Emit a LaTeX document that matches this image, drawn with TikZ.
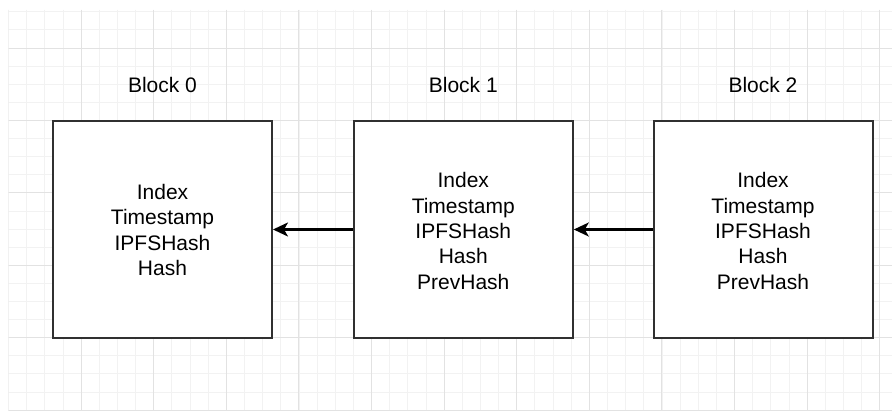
\documentclass[tikz,border=0pt]{standalone}
\usepackage{fontspec}
\setmainfont{Liberation Sans}
\usetikzlibrary{arrows.meta}
\definecolor{minorgrid}{HTML}{F2F2F2}
\definecolor{majorgrid}{HTML}{E2E2E2}
\definecolor{boxline}{HTML}{303030}
\tikzset{
  blockbox/.style={draw=boxline, line width=2pt, fill=white, minimum width=219pt, minimum height=217pt, inner sep=0pt},
  blocktext/.style={align=center, font=\fontsize{21pt}{25.3pt}\selectfont, inner sep=0pt},
  blocklabel/.style={font=\fontsize{21pt}{25pt}\selectfont, inner sep=0pt},
  linkarrow/.style={draw=black, line width=2.2pt, -{Stealth[length=15pt,width=14pt,inset=4pt]}}
}
\begin{document}
\begin{tikzpicture}[x=1pt,y=-1pt]
\useasboundingbox (0,0) rectangle (892,412);
\fill[white] (0,0) rectangle (892,412);
% grid
\begin{scope}
\clip (8.5,10) rectangle (892,410.5);
\foreach \i in {0,...,49} {
  \pgfmathsetmacro{\xx}{8.5+18.15*\i}
  \draw[minorgrid, line width=0.8pt] (\xx,10) -- (\xx,411);
}
\foreach \i in {-2,...,20} {
  \pgfmathsetmacro{\yy}{48+18.1*\i}
  \draw[minorgrid, line width=0.8pt] (8,\yy) -- (892,\yy);
}
\foreach \i in {0,...,12} {
  \pgfmathsetmacro{\xx}{8.5+72.6*\i}
  \draw[majorgrid, line width=0.9pt] (\xx,10) -- (\xx,411);
}
\foreach \i in {-1,...,5} {
  \pgfmathsetmacro{\yy}{48+72.4*\i}
  \draw[majorgrid, line width=0.9pt] (8,\yy) -- (892,\yy);
}
\end{scope}
% blocks
\node[blockbox] (b0) at (162.5,229.5) {};
\node[blockbox] (b1) at (463.3,229.5) {};
\node[blockbox] (b2) at (763,229.5) {};
\node[blocktext] (t0) at (162.5,230) {Index\\Timestamp\\IPFSHash\\Hash};
\node[blocktext] (t1) at (463.3,231) {Index\\Timestamp\\IPFSHash\\Hash\\PrevHash};
\node[blocktext] (t2) at (763,231) {Index\\Timestamp\\IPFSHash\\Hash\\PrevHash};
\node[blocklabel] (l0) at (162.5,85) {Block 0};
\node[blocklabel] (l1) at (463.3,85) {Block 1};
\node[blocklabel] (l2) at (763,85) {Block 2};
% links
\draw[linkarrow] (b1.west) -- (b0.east);
\draw[linkarrow] (b2.west) -- (b1.east);
\end{tikzpicture}
\end{document}
